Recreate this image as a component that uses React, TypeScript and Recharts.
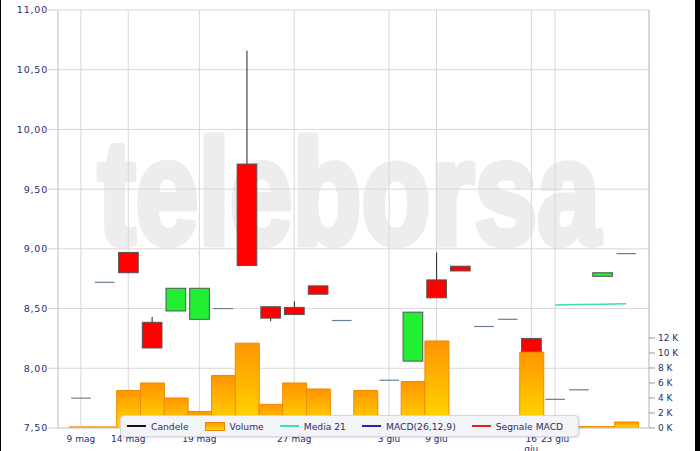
import React from 'react';
import { ComposedChart, Bar, Line, XAxis, YAxis, CartesianGrid } from 'recharts';

const dates = [
  '9 mag', '12 mag', '14 mag', '15 mag', '16 mag', '19 mag', '20 mag', '21 mag',
  '22 mag', '27 mag', '28 mag', '29 mag', '30 mag', '3 giu', '5 giu', '9 giu',
  '10 giu', '11 giu', '13 giu', '16 giu', '23 giu', '24 giu', '25 giu', '26 giu',
];
const opens = [7.75, 8.72, 8.97, 8.385, 8.48, 8.41, 8.5, 9.71, 8.515, 8.51, 8.69, 8.4, 7.8, 7.9, 8.06, 8.74, 8.855, 8.35, 8.41, 8.25, 7.74, 7.82, 8.77, 8.96];
const highs = [7.75, 8.72, 8.97, 8.43, 8.67, 8.67, 8.5, 10.66, 8.515, 8.56, 8.69, 8.4, 7.8, 7.9, 8.47, 8.97, 8.855, 8.35, 8.41, 8.25, 7.74, 7.82, 8.8, 8.96];
const lows = [7.75, 8.72, 8.8, 8.17, 8.48, 8.41, 8.5, 8.86, 8.395, 8.45, 8.62, 8.4, 7.8, 7.9, 8.06, 8.59, 8.815, 8.35, 8.41, 8.13, 7.74, 7.82, 8.77, 8.96];
const closes = [7.75, 8.72, 8.8, 8.17, 8.67, 8.67, 8.5, 8.86, 8.42, 8.45, 8.62, 8.4, 7.8, 7.9, 8.47, 8.59, 8.815, 8.35, 8.41, 8.13, 7.74, 7.82, 8.8, 8.96];
const volumes = [150, 150, 5000, 6000, 4000, 2200, 7000, 11300, 3150, 6000, 5200, 0, 5000, 400, 6200, 11600, 1000, 300, 400, 10100, 200, 200, 200, 800];
const ma21 = [
  null, null, null, null, null, null, null, null, null, null, null, null,
  null, null, null, null, null, null, null, null, 8.53, 8.534, 8.537, 8.541,
];

const xTicks = ['9 mag', '14 mag', '19 mag', '27 mag', '3 giu', '9 giu', '16 giu', '23 giu'];
const priceTicks = [7.5, 8, 8.5, 9, 9.5, 10, 10.5, 11];
const volumeTicks = [0, 2000, 4000, 6000, 8000, 10000, 12000];

const PRICE_MIN = 7.5;
const PRICE_MAX = 11;
const VOLUME_MAX = 55700;

const data = dates.map((date, i) => ({
  date,
  open: opens[i],
  high: highs[i],
  low: lows[i],
  close: closes[i],
  volume: volumes[i],
  ma21: ma21[i],
}));

const TEXT = '#2c2c70';
const FONT = 'DejaVu Sans, Verdana, sans-serif';

// range bar [PRICE_MIN, high] gives us the pixel scale to place open/close/low
const Candle = (props: any) => {
  const { x, y, width, height, payload } = props;
  const { open, close, high, low } = payload;
  const k = height / (high - PRICE_MIN);
  const py = (v: number) => y + (high - v) * k;
  const cx = x + width / 2;
  const bw = width * 0.82;
  if (high === low) {
    return <line x1={cx - bw / 2} x2={cx + bw / 2} y1={py(close)} y2={py(close)} stroke="#6d7f92" strokeWidth={1.2} />;
  }
  const top = py(Math.max(open, close));
  const bottom = py(Math.min(open, close));
  return (
    <g>
      <line x1={cx} x2={cx} y1={py(high)} y2={py(low)} stroke="#222" strokeWidth={1} />
      <rect
        x={cx - bw / 2}
        y={top}
        width={bw}
        height={Math.max(bottom - top, 1)}
        fill={close < open ? '#ff0000' : '#22ee33'}
        stroke="#555"
        strokeWidth={1}
      />
    </g>
  );
};

// wraps a label onto two lines when the next labelled day is the very next slot
const DateTick = (props: any) => {
  const { x, y, payload } = props;
  const idx = dates.indexOf(payload.value);
  const next = xTicks[xTicks.indexOf(payload.value) + 1];
  const crowded = next !== undefined && dates.indexOf(next) - idx <= 1;
  const parts = crowded ? payload.value.split(' ') : [payload.value];
  return (
    <text x={x} y={y} textAnchor="middle" fill={TEXT} fontSize={9} fontFamily={FONT}>
      {parts.map((p: string, i: number) => (
        <tspan key={i} x={x} dy={i === 0 ? '0.71em' : '1.1em'}>{p}</tspan>
      ))}
    </text>
  );
};

const legendItems = [
  { name: 'Candele', type: 'line', color: '#111' },
  { name: 'Volume', type: 'rect', color: '' },
  { name: 'Media 21', type: 'line', color: '#3fe0a0' },
  { name: 'MACD(26,12,9)', type: 'line', color: '#2222bb' },
  { name: 'Segnale MACD', type: 'line', color: '#dd2222' },
];

const ChartLegend = () => (
  <div
    style={{
      position: 'absolute',
      left: 120,
      top: 415,
      width: 459,
      height: 22,
      boxSizing: 'border-box',
      background: '#f3f4f7',
      border: '1px solid #d3d6de',
      borderRadius: 4,
      boxShadow: '1px 1px 2px rgba(0,0,0,0.12)',
      display: 'flex',
      alignItems: 'center',
      paddingLeft: 6,
      fontFamily: FONT,
      fontSize: 9.2,
      color: TEXT,
      whiteSpace: 'nowrap',
      overflow: 'hidden',
    }}
  >
    {legendItems.map((it) => (
      <div key={it.name} style={{ display: 'flex', alignItems: 'center', marginRight: 16, flexShrink: 0 }}>
        {it.type === 'line' ? (
          <span style={{ display: 'inline-block', width: 19, height: 2, background: it.color }} />
        ) : (
          <span
            style={{
              display: 'inline-block',
              width: 20,
              height: 9,
              boxSizing: 'border-box',
              background: 'linear-gradient(#ff9500, #ffd400)',
              border: '1px solid #e88a00',
            }}
          />
        )}
        <span style={{ marginLeft: 5 }}>{it.name}</span>
      </div>
    ))}
  </div>
);

const App = () => {
  return (
    <div style={{ position: 'fixed', left: 0, top: 0, width: 700, height: 451, background: '#000', overflow: 'hidden' }}>
      <div style={{ position: 'absolute', left: 1, top: 0, width: 694, height: 451, background: '#fff' }} />
      <svg width={700} height={451} style={{ position: 'absolute', left: 0, top: 0 }}>
        <text
          x={98}
          y={244}
          fontSize={148}
          fontWeight="bold"
          fontFamily="Liberation Sans, Arial, sans-serif"
          fill="#ededed"
          stroke="#ededed"
          strokeWidth={7}
          strokeLinejoin="round"
          textLength={502}
          lengthAdjust="spacingAndGlyphs"
        >
          teleborsa
        </text>
      </svg>
      <div style={{ position: 'absolute', left: 0, top: 0 }}>
        <ComposedChart
          width={700}
          height={451}
          data={data}
          margin={{ top: 10, right: 0, bottom: 0, left: 0 }}
          barCategoryGap={0}
          barGap="-100%"
          style={{ fontFamily: FONT }}
        >
          <defs>
            <linearGradient id="volGrad" x1="0" y1="0" x2="0" y2="1">
              <stop offset="0%" stopColor="#ff9500" />
              <stop offset="100%" stopColor="#ffdc00" />
            </linearGradient>
          </defs>
          <CartesianGrid yAxisId="price" stroke="#d8d8d8" />
          <XAxis
            dataKey="date"
            ticks={xTicks}
            interval={0}
            height={23}
            padding={{ left: 11, right: 11 }}
            axisLine={{ stroke: '#cfcfcf' }}
            tickLine={false}
            tickMargin={2}
            tick={<DateTick />}
          />
          <YAxis
            yAxisId="price"
            orientation="left"
            width={58}
            domain={[PRICE_MIN, PRICE_MAX]}
            ticks={priceTicks}
            allowDataOverflow
            tickFormatter={(v: number) => v.toFixed(2).replace('.', ',')}
            axisLine={{ stroke: '#cfcfcf' }}
            tickLine={{ stroke: '#cfcfcf' }}
            tickSize={10}
            tickMargin={0}
            tick={{ fill: TEXT, fontSize: 9.5, fontFamily: FONT, letterSpacing: 0.8 }}
          />
          <YAxis
            yAxisId="vol"
            orientation="right"
            width={51}
            domain={[0, VOLUME_MAX]}
            ticks={volumeTicks}
            allowDataOverflow
            tickFormatter={(v: number) => `${v / 1000} K`}
            axisLine={{ stroke: '#c4c4c4' }}
            tickLine={{ stroke: '#999' }}
            tickSize={6}
            tickMargin={3}
            tick={{ fill: TEXT, fontSize: 9, fontFamily: FONT }}
          />
          <Bar
            yAxisId="price"
            dataKey={(d: any) => [PRICE_MIN, d.high]}
            shape={(p: any) => <Candle {...p} />}
            isAnimationActive={false}
          />
          <Bar
            yAxisId="vol"
            dataKey="volume"
            fill="url(#volGrad)"
            stroke="#ef8a00"
            strokeWidth={1}
            isAnimationActive={false}
          />
          <Line
            yAxisId="price"
            dataKey="ma21"
            stroke="#3fe0a0"
            strokeWidth={1.5}
            dot={false}
            connectNulls={false}
            isAnimationActive={false}
          />
        </ComposedChart>
      </div>
      <ChartLegend />
    </div>
  );
};

export default App;
